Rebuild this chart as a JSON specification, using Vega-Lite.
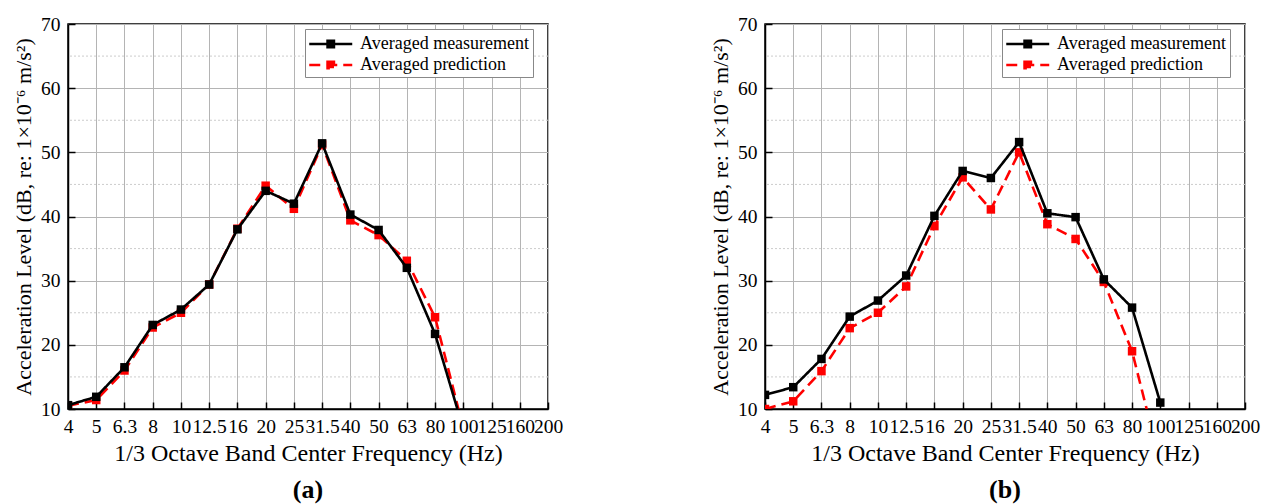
{
  "$schema": "https://vega.github.io/schema/vega-lite/v6.json",
  "padding": {"left": 11, "top": 13, "right": 5, "bottom": 0},
  "background": "white",
  "config": {
    "font": "Liberation Serif",
    "view": {"stroke": "black", "strokeWidth": 1.5},
    "axis": {
      "labelFont": "Liberation Serif", "labelFontSize": 19.5, "labelColor": "black",
      "titleFont": "Liberation Serif", "titleFontWeight": "normal", "titleColor": "black",
      "domainColor": "black", "domainWidth": 1.5, "tickColor": "black", "tickWidth": 1.5,
      "gridColor": "#b4b4b4", "gridWidth": 1, "gridOpacity": 1
    },
    "legend": {
      "orient": "none", "legendX": 237, "legendY": 5,
      "strokeColor": "#888888", "fillColor": "white", "padding": 3,
      "labelFont": "Liberation Serif", "labelFontSize": 18, "labelColor": "black", "labelLimit": 400,
      "symbolType": "M-1,0H3M0.7,-0.3H1.3V0.3H0.7Z", "symbolSize": 462, "symbolStrokeWidth": 2.5,
      "rowPadding": 0, "labelOffset": 28
    },
    "title": {"font": "Liberation Serif", "fontSize": 26, "fontWeight": "bold", "color": "black"}
  },
  "datasets": {
    "pts": [
      {"panel": "a", "freq": "4", "series": "Averaged measurement", "value": 10.6},
      {"panel": "a", "freq": "5", "series": "Averaged measurement", "value": 11.9},
      {"panel": "a", "freq": "6.3", "series": "Averaged measurement", "value": 16.5},
      {"panel": "a", "freq": "8", "series": "Averaged measurement", "value": 23.1},
      {"panel": "a", "freq": "10", "series": "Averaged measurement", "value": 25.5},
      {"panel": "a", "freq": "12.5", "series": "Averaged measurement", "value": 29.4},
      {"panel": "a", "freq": "16", "series": "Averaged measurement", "value": 38.0},
      {"panel": "a", "freq": "20", "series": "Averaged measurement", "value": 44.0},
      {"panel": "a", "freq": "25", "series": "Averaged measurement", "value": 42.0},
      {"panel": "a", "freq": "31.5", "series": "Averaged measurement", "value": 51.4},
      {"panel": "a", "freq": "40", "series": "Averaged measurement", "value": 40.3},
      {"panel": "a", "freq": "50", "series": "Averaged measurement", "value": 37.9},
      {"panel": "a", "freq": "63", "series": "Averaged measurement", "value": 32.0},
      {"panel": "a", "freq": "80", "series": "Averaged measurement", "value": 21.7},
      {"panel": "a", "freq": "100", "series": "Averaged measurement", "value": 6.9},
      {"panel": "a", "freq": "4", "series": "Averaged prediction", "value": 10.5},
      {"panel": "a", "freq": "5", "series": "Averaged prediction", "value": 11.4},
      {"panel": "a", "freq": "6.3", "series": "Averaged prediction", "value": 16.0},
      {"panel": "a", "freq": "8", "series": "Averaged prediction", "value": 22.7},
      {"panel": "a", "freq": "10", "series": "Averaged prediction", "value": 25.0},
      {"panel": "a", "freq": "12.5", "series": "Averaged prediction", "value": 29.4},
      {"panel": "a", "freq": "16", "series": "Averaged prediction", "value": 38.1},
      {"panel": "a", "freq": "20", "series": "Averaged prediction", "value": 44.8},
      {"panel": "a", "freq": "25", "series": "Averaged prediction", "value": 41.2},
      {"panel": "a", "freq": "31.5", "series": "Averaged prediction", "value": 51.2},
      {"panel": "a", "freq": "40", "series": "Averaged prediction", "value": 39.4},
      {"panel": "a", "freq": "50", "series": "Averaged prediction", "value": 37.1},
      {"panel": "a", "freq": "63", "series": "Averaged prediction", "value": 33.1},
      {"panel": "a", "freq": "80", "series": "Averaged prediction", "value": 24.3},
      {"panel": "a", "freq": "100", "series": "Averaged prediction", "value": 7.0},
      {"panel": "b", "freq": "4", "series": "Averaged measurement", "value": 12.2},
      {"panel": "b", "freq": "5", "series": "Averaged measurement", "value": 13.4},
      {"panel": "b", "freq": "6.3", "series": "Averaged measurement", "value": 17.8},
      {"panel": "b", "freq": "8", "series": "Averaged measurement", "value": 24.4},
      {"panel": "b", "freq": "10", "series": "Averaged measurement", "value": 26.9},
      {"panel": "b", "freq": "12.5", "series": "Averaged measurement", "value": 30.8},
      {"panel": "b", "freq": "16", "series": "Averaged measurement", "value": 40.1},
      {"panel": "b", "freq": "20", "series": "Averaged measurement", "value": 47.1},
      {"panel": "b", "freq": "25", "series": "Averaged measurement", "value": 46.0},
      {"panel": "b", "freq": "31.5", "series": "Averaged measurement", "value": 51.6},
      {"panel": "b", "freq": "40", "series": "Averaged measurement", "value": 40.5},
      {"panel": "b", "freq": "50", "series": "Averaged measurement", "value": 39.9},
      {"panel": "b", "freq": "63", "series": "Averaged measurement", "value": 30.2},
      {"panel": "b", "freq": "80", "series": "Averaged measurement", "value": 25.8},
      {"panel": "b", "freq": "100", "series": "Averaged measurement", "value": 11.0},
      {"panel": "b", "freq": "4", "series": "Averaged prediction", "value": 10.0},
      {"panel": "b", "freq": "5", "series": "Averaged prediction", "value": 11.2},
      {"panel": "b", "freq": "6.3", "series": "Averaged prediction", "value": 15.9},
      {"panel": "b", "freq": "8", "series": "Averaged prediction", "value": 22.6},
      {"panel": "b", "freq": "10", "series": "Averaged prediction", "value": 25.0},
      {"panel": "b", "freq": "12.5", "series": "Averaged prediction", "value": 29.1},
      {"panel": "b", "freq": "16", "series": "Averaged prediction", "value": 38.5},
      {"panel": "b", "freq": "20", "series": "Averaged prediction", "value": 46.1},
      {"panel": "b", "freq": "25", "series": "Averaged prediction", "value": 41.1},
      {"panel": "b", "freq": "31.5", "series": "Averaged prediction", "value": 50.0},
      {"panel": "b", "freq": "40", "series": "Averaged prediction", "value": 38.8},
      {"panel": "b", "freq": "50", "series": "Averaged prediction", "value": 36.5},
      {"panel": "b", "freq": "63", "series": "Averaged prediction", "value": 29.8},
      {"panel": "b", "freq": "80", "series": "Averaged prediction", "value": 19.0},
      {"panel": "b", "freq": "100", "series": "Averaged prediction", "value": 1.6}
    ],
    "minor": [
      {"value": 15}, {"value": 25}, {"value": 35}, {"value": 45}, {"value": 55}, {"value": 65}
    ]
  },
  "spacing": 144,
  "resolve": {
    "scale": {"color": "independent", "strokeDash": "independent", "x": "independent", "y": "independent"},
    "legend": {"color": "independent", "strokeDash": "independent"}
  },
  "hconcat": [
    {
      "width": 480, "height": 385,
      "title": {"text": "(a)", "orient": "bottom", "offset": 11, "frame": "group", "anchor": "middle"},
      "data": {"name": "pts"},
      "transform": [{"filter": "datum.panel === 'a'"}],
      "encoding": {
        "y": {"field": "value", "type": "quantitative",
          "scale": {"domain": [10, 70], "nice": false, "zero": false},
          "axis": {"values": [10, 20, 30, 40, 50, 60, 70], "title": "Acceleration Level (dB, re: 1×10⁻⁶ m/s²)", "titleFontSize": 22, "tickSize": -7, "labelPadding": 15, "titlePadding": 5, "grid": true}}
      },
      "layer": [
        {"data": {"name": "minor"}, "mark": {"type": "rule", "stroke": "#cccccc", "strokeDash": [2, 2], "strokeWidth": 1}},
        {
          "transform": [{"filter": "datum.series === 'Averaged prediction'"}],
          "mark": {"type": "line", "strokeWidth": 2.6, "clip": true, "point": {"shape": "square", "size": 72, "filled": true, "opacity": 1}},
          "encoding": {
            "x": {"field": "freq", "type": "ordinal", "scale": {"type": "point", "padding": 0, "domain": ["4","5","6.3","8","10","12.5","16","20","25","31.5","40","50","63","80","100","125","160","200"]},
              "axis": {"title": "1/3 Octave Band Center Frequency (Hz)", "titleFontSize": 24, "labelAngle": 0, "tickSize": -7, "labelPadding": 15, "titlePadding": 6, "grid": true}},
            "color": {"field": "series", "type": "nominal", "title": null, "scale": {"domain": ["Averaged measurement", "Averaged prediction"], "range": ["#000000", "#ff0000"]}},
            "strokeDash": {"field": "series", "type": "nominal", "title": null, "scale": {"domain": ["Averaged measurement", "Averaged prediction"], "range": [[1, 0], [11, 6]]}}
          }
        },
        {
          "transform": [{"filter": "datum.series === 'Averaged measurement'"}],
          "mark": {"type": "line", "strokeWidth": 2.6, "clip": true, "point": {"shape": "square", "size": 72, "filled": true, "opacity": 1}},
          "encoding": {
            "x": {"field": "freq", "type": "ordinal"},
            "color": {"field": "series", "type": "nominal", "title": null},
            "strokeDash": {"field": "series", "type": "nominal", "title": null}
          }
        }
      ]
    },
    {
      "width": 480, "height": 385,
      "title": {"text": "(b)", "orient": "bottom", "offset": 11, "frame": "group", "anchor": "middle"},
      "data": {"name": "pts"},
      "transform": [{"filter": "datum.panel === 'b'"}],
      "encoding": {
        "y": {"field": "value", "type": "quantitative",
          "scale": {"domain": [10, 70], "nice": false, "zero": false},
          "axis": {"values": [10, 20, 30, 40, 50, 60, 70], "title": "Acceleration Level (dB, re: 1×10⁻⁶ m/s²)", "titleFontSize": 22, "tickSize": -7, "labelPadding": 15, "titlePadding": 5, "grid": true}}
      },
      "layer": [
        {"data": {"name": "minor"}, "mark": {"type": "rule", "stroke": "#cccccc", "strokeDash": [2, 2], "strokeWidth": 1}},
        {
          "transform": [{"filter": "datum.series === 'Averaged prediction'"}],
          "mark": {"type": "line", "strokeWidth": 2.6, "clip": true, "point": {"shape": "square", "size": 72, "filled": true, "opacity": 1}},
          "encoding": {
            "x": {"field": "freq", "type": "ordinal", "scale": {"type": "point", "padding": 0, "domain": ["4","5","6.3","8","10","12.5","16","20","25","31.5","40","50","63","80","100","125","160","200"]},
              "axis": {"title": "1/3 Octave Band Center Frequency (Hz)", "titleFontSize": 24, "labelAngle": 0, "tickSize": -7, "labelPadding": 15, "titlePadding": 6, "grid": true}},
            "color": {"field": "series", "type": "nominal", "title": null, "scale": {"domain": ["Averaged measurement", "Averaged prediction"], "range": ["#000000", "#ff0000"]}},
            "strokeDash": {"field": "series", "type": "nominal", "title": null, "scale": {"domain": ["Averaged measurement", "Averaged prediction"], "range": [[1, 0], [11, 6]]}}
          }
        },
        {
          "transform": [{"filter": "datum.series === 'Averaged measurement'"}],
          "mark": {"type": "line", "strokeWidth": 2.6, "clip": true, "point": {"shape": "square", "size": 72, "filled": true, "opacity": 1}},
          "encoding": {
            "x": {"field": "freq", "type": "ordinal"},
            "color": {"field": "series", "type": "nominal", "title": null},
            "strokeDash": {"field": "series", "type": "nominal", "title": null}
          }
        }
      ]
    }
  ]
}
